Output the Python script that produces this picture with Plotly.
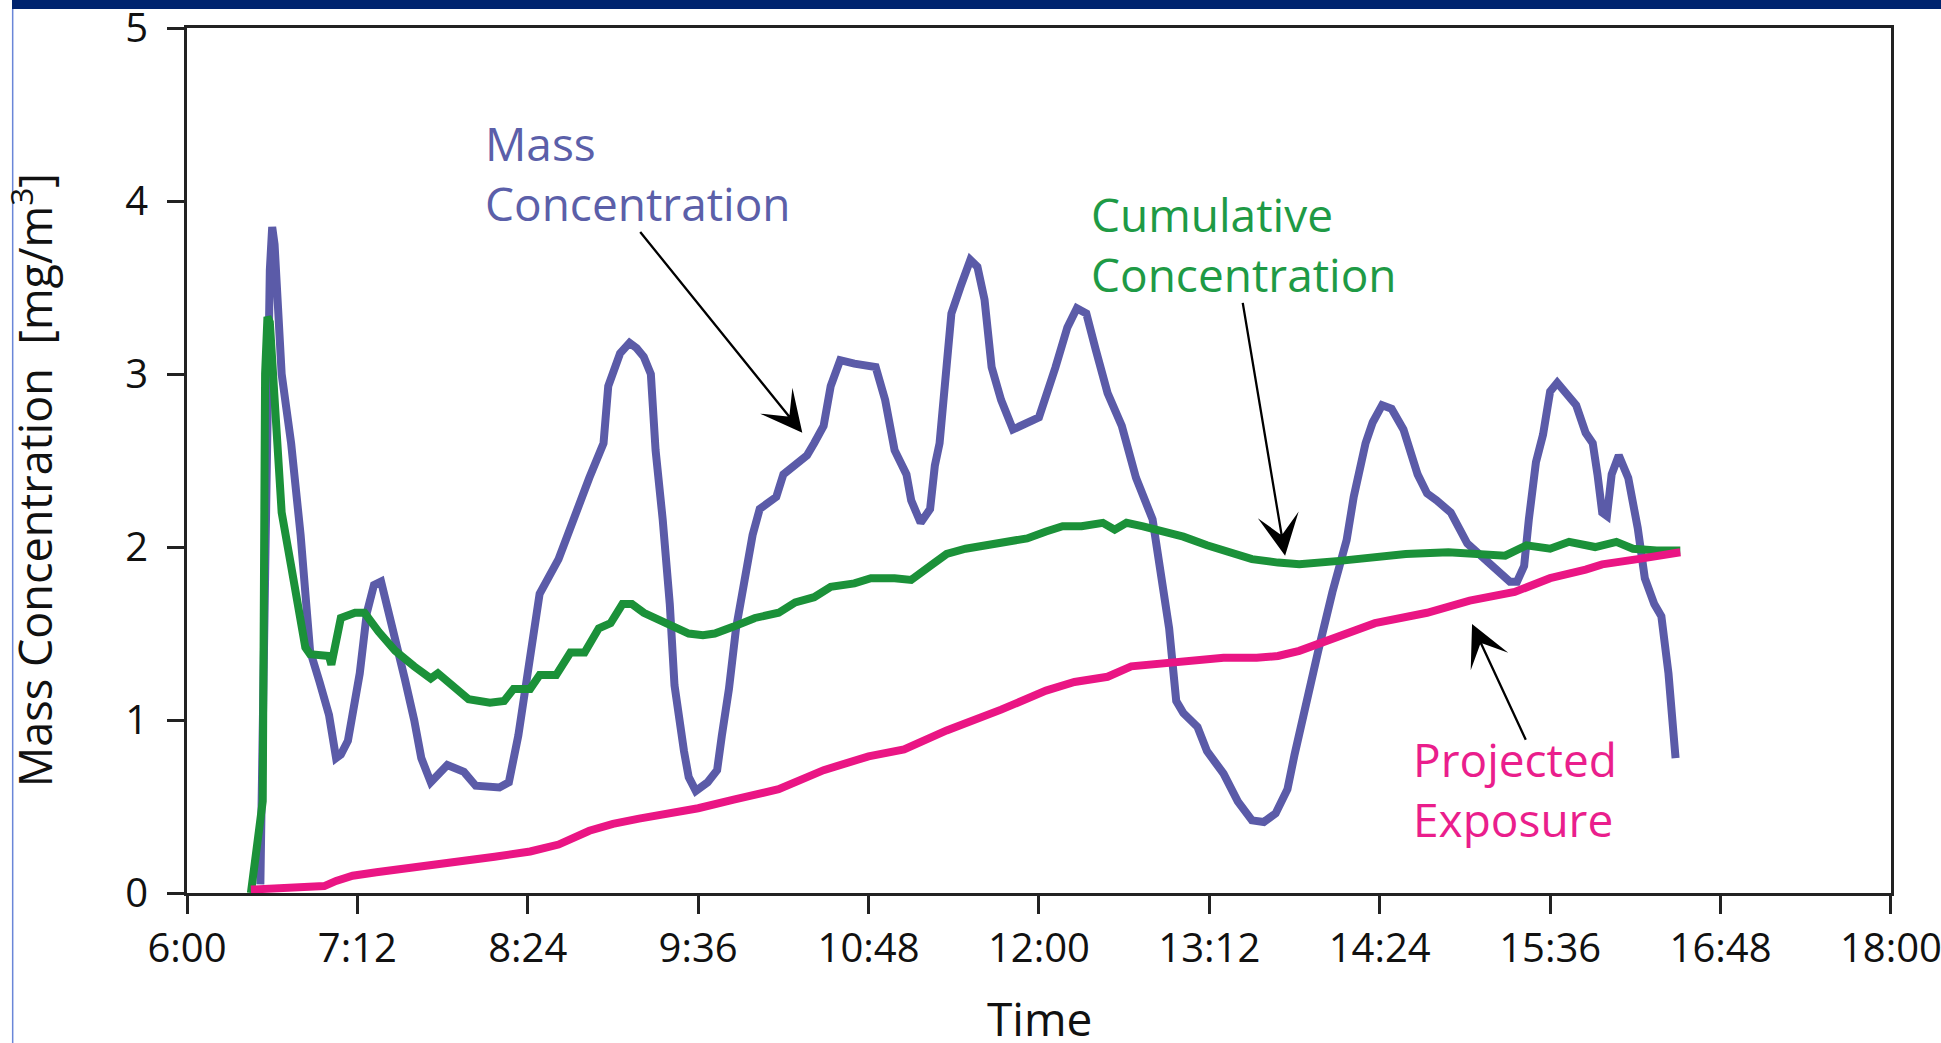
import plotly.graph_objects as go

# ---------------- data ----------------
TICK_LABELS = ["6:00", "7:12", "8:24", "9:36", "10:48", "12:00",
               "13:12", "14:24", "15:36", "16:48", "18:00"]
Y_TICKS = [0, 1, 2, 3, 4, 5]

MASS_TIME = ["6:31", "6:33", "6:35", "6:36", "6:37", "6:40", "6:44", "6:48", "6:52", "6:56",
             "7:00", "7:03", "7:05", "7:08", "7:13", "7:16", "7:19", "7:22", "7:28", "7:32",
             "7:36", "7:39", "7:43", "7:46", "7:50", "7:57", "8:02", "8:12", "8:16", "8:20",
             "8:25", "8:29", "8:37", "8:43", "8:50", "8:56", "8:58", "9:03", "9:07", "9:10",
             "9:13", "9:16", "9:18", "9:21", "9:24", "9:26", "9:28", "9:30", "9:32", "9:35",
             "9:40", "9:44", "9:46", "9:49", "9:52", "9:55", "9:59", "10:02", "10:09", "10:12",
             "10:17", "10:22", "10:25", "10:29", "10:32", "10:36", "10:42", "10:48", "10:51", "10:55",
             "10:59", "11:04", "11:06", "11:10", "11:14", "11:16", "11:18", "11:21", "11:23", "11:27",
             "11:31", "11:34", "11:37", "11:40", "11:44", "11:49", "11:57", "12:00", "12:07", "12:12",
             "12:16", "12:20", "12:24", "12:29", "12:35", "12:38", "12:41", "12:48", "12:52", "12:55",
             "12:58", "13:01", "13:07", "13:11", "13:18", "13:24", "13:30", "13:35", "13:40", "13:45",
             "13:48", "13:52", "13:58", "14:04", "14:10", "14:13", "14:18", "14:21", "14:25", "14:29",
             "14:34", "14:40", "14:44", "14:48", "14:54", "15:01", "15:06", "15:14", "15:19", "15:22",
             "15:25", "15:27", "15:30", "15:33", "15:36", "15:39", "15:43", "15:47", "15:51", "15:54",
             "15:56", "15:58", "16:00", "16:02", "16:05", "16:09", "16:13", "16:16", "16:20", "16:23",
             "16:26", "16:29"]
MASS_CONC = [0.05, 2.2, 3.6, 3.85, 3.75, 3.0, 2.6, 2.07, 1.4, 1.22,
             1.03, 0.78, 0.8, 0.88, 1.27, 1.62, 1.78, 1.8, 1.49, 1.24,
             1.0, 0.78, 0.64, 0.69, 0.74, 0.7, 0.62, 0.61, 0.64, 0.91,
             1.36, 1.73, 1.93, 2.16, 2.4, 2.6, 2.93, 3.12, 3.18, 3.15,
             3.1, 3.0, 2.56, 2.16, 1.67, 1.2, 0.98, 0.82, 0.67, 0.59,
             0.64, 0.71, 0.91, 1.18, 1.53, 1.78, 2.07, 2.22, 2.29, 2.42,
             2.47, 2.53, 2.6, 2.7, 2.93, 3.08, 3.06, 3.04, 3.04, 2.85,
             2.56, 2.42, 2.27, 2.14, 2.22, 2.47, 2.6, 3.05, 3.35, 3.51,
             3.66, 3.62, 3.43, 3.04, 2.85, 2.68, 2.74, 2.75, 3.04, 3.27,
             3.38, 3.35, 3.14, 2.89, 2.7, 2.56, 2.4, 2.16, 1.82, 1.53,
             1.11, 1.04, 0.96, 0.82, 0.69, 0.53, 0.42, 0.41, 0.46, 0.6,
             0.8, 1.06, 1.4, 1.74, 2.04, 2.29, 2.6, 2.72, 2.82, 2.8,
             2.68, 2.42, 2.31, 2.27, 2.2, 2.02, 1.96, 1.87, 1.8, 1.8,
             1.89, 2.16, 2.49, 2.65, 2.9, 2.95, 2.88, 2.82, 2.66, 2.6,
             2.42, 2.2, 2.18, 2.42, 2.53, 2.4, 2.11, 1.82, 1.67, 1.6,
             1.27, 0.78]

CUM_TIME = ["6:27", "6:31", "6:32", "6:33", "6:34", "6:35", "6:37", "6:40", "6:44", "6:48",
            "6:50", "6:52", "7:00", "7:01", "7:03", "7:05", "7:11", "7:15", "7:21", "7:28",
            "7:36", "7:43", "7:46", "7:51", "7:59", "8:08", "8:14", "8:18", "8:25", "8:29",
            "8:36", "8:42", "8:48", "8:54", "8:59", "9:04", "9:08", "9:13", "9:23", "9:32",
            "9:38", "9:43", "9:51", "10:00", "10:10", "10:17", "10:25", "10:32", "10:42", "10:49",
            "10:59", "11:06", "11:14", "11:21", "11:29", "11:38", "11:48", "11:55", "12:03", "12:10",
            "12:18", "12:24", "12:27", "12:32", "12:37", "12:44", "12:52", "13:01", "13:11", "13:20",
            "13:30", "13:41", "13:50", "14:07", "14:20", "14:35", "14:53", "15:10", "15:17", "15:26",
            "15:36", "15:44", "15:55", "16:04", "16:11", "16:21", "16:31"]
CUM_CONC = [0.0, 0.42, 0.53, 3.0, 3.33, 3.3, 2.9, 2.2, 1.89, 1.6,
            1.42, 1.38, 1.37, 1.32, 1.47, 1.59, 1.62, 1.62, 1.51, 1.4,
            1.31, 1.24, 1.27, 1.21, 1.12, 1.1, 1.11, 1.18, 1.18, 1.26,
            1.26, 1.39, 1.39, 1.53, 1.56, 1.67, 1.67, 1.62, 1.56, 1.5,
            1.49, 1.5, 1.54, 1.59, 1.62, 1.68, 1.71, 1.77, 1.79, 1.82,
            1.82, 1.81, 1.89, 1.96, 1.99, 2.01, 2.03, 2.05, 2.09, 2.12,
            2.12, 2.13, 2.14, 2.1, 2.14, 2.12, 2.09, 2.06, 2.01, 1.97,
            1.93, 1.91, 1.9, 1.92, 1.94, 1.96, 1.97, 1.96, 1.95, 2.01,
            1.99, 2.03, 2.0, 2.03, 1.99, 1.98, 1.98]

PROJ_TIME = ["6:27", "6:45", "6:58", "7:03", "7:10", "7:20", "7:32", "7:51", "8:02", "8:10",
             "8:25", "8:37", "8:50", "9:00", "9:11", "9:20", "9:36", "9:51", "10:10", "10:29",
             "10:48", "11:03", "11:21", "11:44", "12:03", "12:15", "12:22", "12:29", "12:39", "12:56",
             "13:18", "13:32", "13:41", "13:50", "13:58", "14:10", "14:22", "14:44", "15:02", "15:21",
             "15:36", "15:51", "15:58", "16:13", "16:31"]
PROJ_EXPO = [0.02, 0.03, 0.04, 0.07, 0.1, 0.12, 0.14, 0.17, 0.19, 0.21,
             0.24, 0.28, 0.36, 0.40, 0.43, 0.45, 0.49, 0.54, 0.6, 0.71,
             0.79, 0.83, 0.94, 1.06, 1.17, 1.22, 1.24, 1.25, 1.31, 1.33,
             1.36, 1.36, 1.37, 1.4, 1.44, 1.5, 1.56, 1.62, 1.69, 1.74,
             1.82, 1.87, 1.9, 1.93, 1.97]

# label text positions (clock time, value) and arrows (tail -> head)
LABELS = [
    ("Mass<br>Concentration", "8:05", 4.16, "mass"),
    ("Cumulative<br>Concentration", "12:21", 3.75, "cum"),
    ("Projected<br>Exposure", "14:37", 0.60, "proj"),
]
ARROWS = [  # (tail time, tail value, head time, head value)
    ("9:11", 3.83, "10:20", 2.66),
    ("13:26", 3.42, "13:44", 1.95),
    ("15:26", 0.877, "15:03", 1.555),
]

# ---------------- style ----------------
COLORS = {"mass": "#5b5ba8", "cum": "#1b9139", "proj": "#ea1584"}
TEXT_COLORS = {"mass": "#5b5fa9", "cum": "#1e9a45", "proj": "#ea1e8c"}
FONT = "Open Sans, Noto Sans, sans-serif"


def hours(s):
    h, m = s.split(":")
    return int(h) + int(m) / 60.0


fig = go.Figure()
fig.add_trace(go.Scatter(x=[hours(t) for t in MASS_TIME], y=MASS_CONC, mode="lines",
                         name="Mass Concentration",
                         line=dict(color=COLORS["mass"], width=8)))
fig.add_trace(go.Scatter(x=[hours(t) for t in CUM_TIME], y=CUM_CONC, mode="lines",
                         name="Cumulative Concentration",
                         line=dict(color=COLORS["cum"], width=8)))
fig.add_trace(go.Scatter(x=[hours(t) for t in PROJ_TIME], y=PROJ_EXPO, mode="lines",
                         name="Projected Exposure",
                         line=dict(color=COLORS["proj"], width=8)))

annotations = []
for text, t, v, key in LABELS:
    annotations.append(dict(x=hours(t), y=v, xref="x", yref="y", text=text,
                            showarrow=False, xanchor="left", yanchor="middle",
                            align="left",
                            font=dict(family=FONT, size=46, color=TEXT_COLORS[key])))
for tt, tv, ht, hv in ARROWS:
    annotations.append(dict(x=hours(ht), y=hv, ax=hours(tt), ay=tv,
                            xref="x", yref="y", axref="x", ayref="y",
                            text="", showarrow=True, arrowhead=3, arrowsize=3.0,
                            arrowwidth=2.3, arrowcolor="#000000"))

# axis titles
annotations.append(dict(x=-0.0905, y=0.477, xref="paper", yref="paper",
                        text="Mass Concentration\u00a0\u00a0[mg/m<sup>3</sup>]",
                        textangle=-90, showarrow=False, xanchor="center", yanchor="middle",
                        font=dict(family=FONT, size=45, color="#111111")))
annotations.append(dict(x=0.5, y=-0.145, xref="paper", yref="paper", text="Time",
                        showarrow=False, xanchor="center", yanchor="middle",
                        font=dict(family=FONT, size=46, color="#111111")))

tickvals = [hours(s) for s in TICK_LABELS]

fig.update_layout(
    width=1941, height=1043, autosize=False,
    margin=dict(l=187, r=50, t=28, b=150, pad=0, autoexpand=False),
    paper_bgcolor="white", plot_bgcolor="white",
    showlegend=False,
    font=dict(family=FONT, color="#111111"),
    xaxis=dict(range=[tickvals[0], tickvals[-1] + 0.0005], tickvals=tickvals,
               ticktext=TICK_LABELS, automargin=False,
               ticks="outside", ticklen=18, tickwidth=2.5, tickcolor="#222222",
               showline=True, linewidth=3, linecolor="#222222", mirror=True,
               showgrid=False, zeroline=False,
               tickfont=dict(family=FONT, size=40, color="#111111"),
               ticklabelstandoff=0, ticklabeloverflow="allow"),
    yaxis=dict(range=[0, 5.0005], tickvals=Y_TICKS, ticks="outside", ticklen=17,
               tickwidth=2.5, automargin=False,
               tickcolor="#222222", showline=True, linewidth=3, linecolor="#222222",
               mirror=True, showgrid=False, zeroline=False,
               tickfont=dict(family=FONT, size=40, color="#111111"),
               ticklabelstandoff=11, ticklabeloverflow="allow"),
    annotations=annotations,
    shapes=[
        dict(type="rect", xref="paper", yref="paper", x0=-0.1027, x1=1.03,
             y0=1.022, y1=1.04, fillcolor="#00246e", line=dict(width=0), layer="above"),
        dict(type="line", xref="paper", yref="paper", x0=-0.1023, x1=-0.1023,
             y0=-0.2, y1=1.022, line=dict(color="#6a86d8", width=1.5)),
    ],
)

fig.write_html("out.html",
               config={"displayModeBar": False},
               post_script="document.body.style.margin='0px';"
                           "document.body.style.overflow='hidden';")
